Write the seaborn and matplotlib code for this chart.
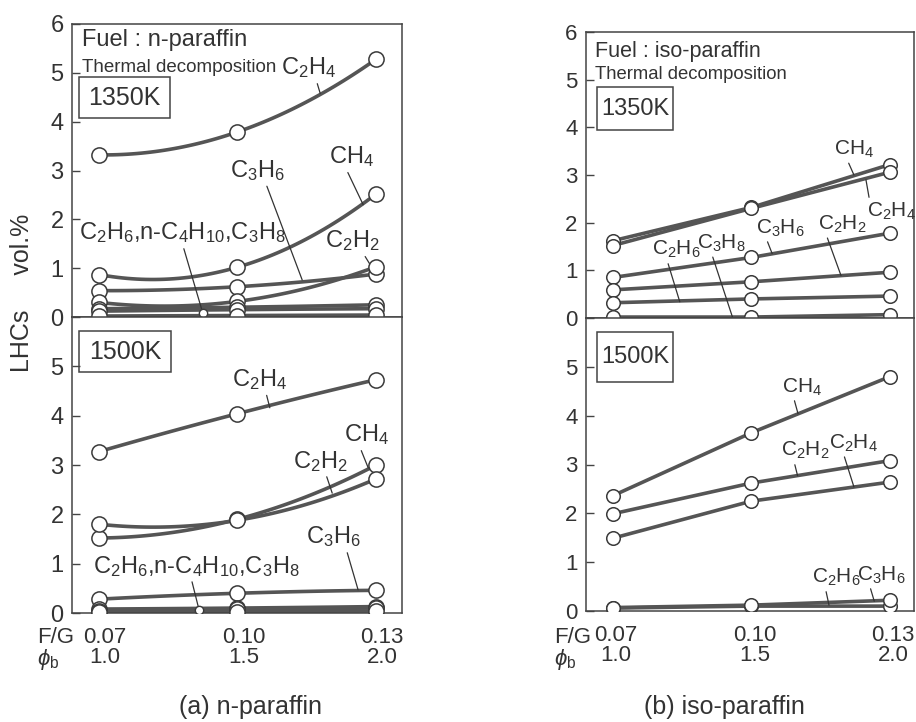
import numpy as np
import pandas as pd
import matplotlib
matplotlib.use("Agg")
import matplotlib.pyplot as plt
import matplotlib.patches as mpatches
import matplotlib.transforms as mtrans
import seaborn as sns

# ---------------- data ----------------
FG = [0.07, 0.10, 0.13]
FG_LABELS = ["0.07", "0.10", "0.13"]
PHI_LABELS = ["1.0", "1.5", "2.0"]

# (a) n-paraffin, 1350 K
n1350_C2H4 = [3.32, 3.79, 5.28]
n1350_CH4 = [0.87, 1.02, 2.52]
n1350_C3H6 = [0.54, 0.62, 0.88]
n1350_C2H2 = [0.30, 0.32, 1.03]
n1350_C2H6 = [0.17, 0.20, 0.25]
n1350_nC4H10 = [0.12, 0.15, 0.17]
n1350_C3H8 = [0.02, 0.03, 0.04]

# (a) n-paraffin, 1500 K
n1500_C2H4 = [3.27, 4.04, 4.73]
n1500_CH4 = [1.52, 1.90, 3.00]
n1500_C2H2 = [1.80, 1.88, 2.72]
n1500_C3H6 = [0.28, 0.40, 0.46]
n1500_C2H6 = [0.08, 0.10, 0.13]
n1500_nC4H10 = [0.05, 0.08, 0.10]
n1500_C3H8 = [0.02, 0.03, 0.04]

# (b) iso-paraffin, 1350 K
i1350_CH4 = [1.62, 2.32, 3.22]
i1350_C2H4 = [1.52, 2.30, 3.06]
i1350_C3H6 = [0.85, 1.27, 1.78]
i1350_C2H2 = [0.59, 0.76, 0.96]
i1350_C2H6 = [0.32, 0.40, 0.46]
i1350_C3H8 = [0.02, 0.02, 0.07]

# (b) iso-paraffin, 1500 K
i1500_CH4 = [2.36, 3.65, 4.80]
i1500_C2H2 = [1.99, 2.62, 3.08]
i1500_C2H4 = [1.49, 2.25, 2.64]
i1500_C2H6 = [0.06, 0.10, 0.10]
i1500_C3H6 = [0.07, 0.12, 0.22]

# ---------------- style ----------------
sns.set_style("ticks")
plt.rcParams["font.family"] = ["Liberation Sans", "DejaVu Sans"]
plt.rcParams["mathtext.fontset"] = "custom"
plt.rcParams["mathtext.rm"] = "Liberation Sans"
plt.rcParams["mathtext.it"] = "Liberation Sans:italic"
plt.rcParams["mathtext.bf"] = "Liberation Sans:bold"

LINE = "#555555"
EDGE = "#3a3a3a"
TXT = "#333333"
SPINE = "#444444"

W, H = 916, 722
fig = plt.figure(figsize=(W / 100, H / 100), dpi=100)


def axes_px(x0, y0, x1, y1):
    return fig.add_axes([x0 / W, 1 - y1 / H, (x1 - x0) / W, (y1 - y0) / H])


axLT = axes_px(72, 24, 402, 317)
axLB = axes_px(72, 317, 402, 613)
axRT = axes_px(586, 32, 914, 318)
axRB = axes_px(586, 318, 914, 611)


def draw_panel(ax, series, smooth, msize):
    dense = []
    pts = []
    for name, vals in series.items():
        if smooth:
            coef = np.polyfit(FG, vals, 2)
            xs = np.linspace(FG[0], FG[-1], 60)
            ys = np.polyval(coef, xs)
        else:
            xs, ys = FG, vals
        dense.append(pd.DataFrame({"x": xs, "y": ys, "sp": name}))
        pts.append(pd.DataFrame({"x": FG, "y": vals, "sp": name}))
    dense = pd.concat(dense, ignore_index=True)
    pts = pd.concat(pts, ignore_index=True)
    sns.lineplot(data=dense, x="x", y="y", units="sp", estimator=None,
                 color=LINE, lw=2.6, ax=ax, legend=False, sort=False, zorder=2)
    sns.scatterplot(data=pts, x="x", y="y", marker="o", s=msize,
                    facecolor="white", edgecolor=EDGE, linewidth=1.1,
                    ax=ax, legend=False, zorder=5)


draw_panel(axLT, {"C2H4": n1350_C2H4, "CH4": n1350_CH4, "C3H6": n1350_C3H6,
                  "C2H2": n1350_C2H2, "C2H6": n1350_C2H6,
                  "nC4H10": n1350_nC4H10, "C3H8": n1350_C3H8}, True, 120)
draw_panel(axLB, {"C2H4": n1500_C2H4, "CH4": n1500_CH4, "C2H2": n1500_C2H2,
                  "C3H6": n1500_C3H6, "C2H6": n1500_C2H6,
                  "nC4H10": n1500_nC4H10, "C3H8": n1500_C3H8}, True, 120)
draw_panel(axRT, {"CH4": i1350_CH4, "C2H4": i1350_C2H4, "C3H6": i1350_C3H6,
                  "C2H2": i1350_C2H2, "C2H6": i1350_C2H6,
                  "C3H8": i1350_C3H8}, False, 95)
draw_panel(axRB, {"CH4": i1500_CH4, "C2H2": i1500_C2H2, "C2H4": i1500_C2H4,
                  "C2H6": i1500_C2H6, "C3H6": i1500_C3H6}, False, 95)

# ---------------- axes formatting ----------------
for ax, left in [(axLT, True), (axLB, True), (axRT, False), (axRB, False)]:
    ax.set_xlim(0.0642, 0.1356 if left else 0.1352)
    ax.set_ylim(0, 6)
    ax.set_xlabel("")
    ax.set_ylabel("")
    for s in ax.spines.values():
        s.set_visible(True)
        s.set_color(SPINE)
        s.set_linewidth(1.1)
    ax.tick_params(axis="y", direction="in", length=6, width=1.0,
                   colors=SPINE, labelcolor=TXT, pad=6,
                   labelsize=17 if left else 16)
    ax.tick_params(axis="x", length=0)
    ax.set_facecolor("white")

for ax in (axLT, axRT):
    ax.set_yticks(range(0, 7))
    ax.set_xticks(FG)
    ax.set_xticklabels([])
for ax in (axLB, axRB):
    ax.set_yticks(range(0, 7))
    ax.set_yticklabels([str(i) for i in range(0, 6)] + [""])
    ax.set_xticks(FG)
    ax.set_xticklabels([f"{a}\n{b}" for a, b in zip(FG_LABELS, PHI_LABELS)],
                       fontsize=16, color=TXT, linespacing=0.95)
    ax.tick_params(axis="x", pad=10)

offL = mtrans.ScaledTranslation(6 / 100, 0, fig.dpi_scale_trans)
for lbl in axLB.get_xticklabels():
    lbl.set_transform(lbl.get_transform() + offL)
offR = mtrans.ScaledTranslation(3 / 100, 0, fig.dpi_scale_trans)
for lbl in axRB.get_xticklabels():
    lbl.set_transform(lbl.get_transform() + offR)


# ---------------- annotations ----------------
def lab(ax, text, txy, end, rel, fs, dot=False):
    ax.annotate(text, xy=end, xytext=txy, textcoords="data", ha="center",
                va="center", fontsize=fs, color=TXT, annotation_clip=False,
                arrowprops=dict(arrowstyle="-", color="#333333", lw=0.9,
                                shrinkA=0, shrinkB=0, relpos=rel))
    if dot:
        ax.plot([end[0]], [end[1]], marker="o", ms=6, mfc="white",
                mec=EDGE, mew=1.0, zorder=6)


def box(ax, x0, y0, w, h, text, fs, tx, ty):
    ax.add_patch(mpatches.Rectangle((x0, y0), w, h, transform=ax.transAxes,
                                    fill=False, ec=SPINE, lw=1.1, zorder=7))
    ax.text(tx, ty, text, transform=ax.transAxes, ha="center", va="center",
            fontsize=fs, color=TXT, zorder=7)


C2H4 = r"C$_2$H$_4$"
CH4 = r"CH$_4$"
C3H6 = r"C$_3$H$_6$"
C2H2 = r"C$_2$H$_2$"
C2H6 = r"C$_2$H$_6$"
C3H8 = r"C$_3$H$_8$"
GROUP = r"C$_2$H$_6$,n-C$_4$H$_{10}$,C$_3$H$_8$"

# left top
axLT.text(0.03, 0.945, "Fuel : n-paraffin", transform=axLT.transAxes,
          fontsize=17, color=TXT, ha="left", va="center")
axLT.text(0.03, 0.852, "Thermal decomposition", transform=axLT.transAxes,
          fontsize=13.5, color=TXT, ha="left", va="center")
box(axLT, 0.0212, 0.679, 0.2758, 0.140, "1350K", 18, 0.159, 0.749)
lab(axLT, C2H4, (0.1153, 5.10), (0.1179, 4.58), (0.6, 0.35), 17)
lab(axLT, C3H6, (0.1044, 3.00), (0.1140, 0.76), (0.6, 0.25), 17)
lab(axLT, CH4, (0.1246, 3.28), (0.1272, 2.30), (0.3, 0.35), 17)
lab(axLT, GROUP, (0.0880, 1.72), (0.0925, 0.08), (0.5, 0.12), 17, dot=True)
lab(axLT, C2H2, (0.1248, 1.56), (0.1293, 0.98), (0.63, 0.26), 17)

# left bottom
box(axLB, 0.0212, 0.814, 0.2788, 0.1385, "1500K", 18, 0.161, 0.8834)
lab(axLB, C2H4, (0.1047, 4.73), (0.1070, 4.16), (0.58, 0.35), 17)
lab(axLB, CH4, (0.1280, 3.61), (0.1283, 2.94), (0.28, 0.3), 17)
lab(axLB, C2H2, (0.1179, 3.08), (0.1205, 2.43), (0.56, 0.26), 17)
lab(axLB, C3H6, (0.1207, 1.54), (0.1261, 0.47), (0.7, 0.3), 17)
lab(axLB, GROUP, (0.0912, 0.95), (0.0917, 0.06), (0.47, 0.1), 17, dot=True)

# right top
axRT.text(0.027, 0.932, "Fuel : iso-paraffin", transform=axRT.transAxes,
          fontsize=15.5, color=TXT, ha="left", va="center")
axRT.text(0.027, 0.850, "Thermal decomposition", transform=axRT.transAxes,
          fontsize=13.3, color=TXT, ha="left", va="center")
box(axRT, 0.0335, 0.657, 0.2317, 0.150, "1350K", 17, 0.149, 0.7325)
lab(axRT, CH4, (0.1222, 3.54), (0.1222, 3.00), (0.3, 0.14), 15)
lab(axRT, C2H4, (0.1304, 2.24), (0.1248, 2.90), (0.05, 0.95), 15)
lab(axRT, C3H6, (0.1063, 1.89), (0.1045, 1.35), (0.17, 0.22), 15)
lab(axRT, C2H2, (0.1196, 1.97), (0.1194, 0.89), (0.14, 0.23), 15)
lab(axRT, C2H6, (0.0838, 1.43), (0.0845, 0.34), (0.28, 0.2), 15)
lab(axRT, C3H8, (0.0935, 1.57), (0.0959, 0.02), (0.28, 0.15), 15)

# right bottom
box(axRB, 0.0335, 0.7816, 0.2317, 0.1706, "1500K", 17, 0.149, 0.867)
lab(axRB, CH4, (0.1110, 4.59), (0.1101, 4.04), (0.27, 0.1), 15)
lab(axRB, C2H2, (0.1117, 3.28), (0.1100, 2.77), (0.24, 0.23), 15)
lab(axRB, C2H4, (0.1220, 3.44), (0.1222, 2.54), (0.29, 0.1), 15)
lab(axRB, C2H6, (0.1184, 0.68), (0.1168, 0.12), (0.27, 0.05), 15)
lab(axRB, C3H6, (0.1281, 0.74), (0.1266, 0.20), (0.24, 0.17), 15)

# ---------------- figure texts ----------------
fig.text(22 / W, 1 - 293 / H, "LHCs     vol.%", rotation=90, ha="center",
         va="center", fontsize=18, color=TXT)
for xfg in (37, 554):
    fig.text(xfg / W, 1 - 627 / H, "F/G\n" + r"$\phi_{\mathrm{b}}$",
             ha="left", va="top", fontsize=16, color=TXT, linespacing=0.92)
fig.text(250 / W, 1 - 707 / H, "(a) n-paraffin", ha="center", va="center",
         fontsize=18, color=TXT)
fig.text(724 / W, 1 - 707 / H, "(b) iso-paraffin", ha="center", va="center",
         fontsize=18, color=TXT)

fig.savefig("out.png", dpi=100, facecolor="white")
